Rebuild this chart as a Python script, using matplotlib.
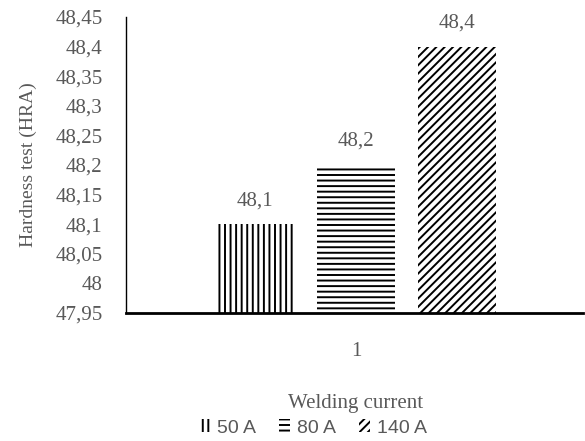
import matplotlib
matplotlib.use("Agg")
import matplotlib.pyplot as plt
from matplotlib.patches import Patch

categories = ["1"]
series_names = ["50 A", "80 A", "140 A"]
values = [48.1, 48.2, 48.4]
value_labels = ["48,1", "48,2", "48,4"]
yticks = [47.95, 48.0, 48.05, 48.1, 48.15, 48.2, 48.25, 48.3, 48.35, 48.4, 48.45]
ytick_labels = ["47,95", "48", "48,05", "48,1", "48,15", "48,2", "48,25", "48,3", "48,35", "48,4", "48,45"]
hatches = ["|||", "---", "////"]

plt.rcParams["hatch.linewidth"] = 1.4
gray = "#595959"
serif = ["Liberation Serif", "DejaVu Serif"]
sans = ["Liberation Sans", "DejaVu Sans"]

fig = plt.figure(figsize=(5.85, 4.41), dpi=100)
ax = fig.add_axes([126/585, 1-313/441, 457/585, 296/441])

offsets = [-0.221, 0.0, 0.221]
width = 0.171
for i, (v, h, lab) in enumerate(zip(values, hatches, value_labels)):
    ax.bar(offsets[i], v - 47.95, bottom=47.95, width=width, color="white",
           edgecolor="black", linewidth=0, hatch=h)
    ax.annotate(lab, (offsets[i], v), xytext=(0, 17), textcoords="offset points",
                ha="center", va="center", fontsize=15, color=gray, family=serif)

ax.set_xlim(-0.503, 0.497)
ax.set_ylim(47.95, 48.45)
ax.set_yticks(yticks)
ax.set_yticklabels(ytick_labels, family=serif, fontsize=15, color=gray)
ax.set_xticks([0])
ax.set_xticklabels(categories, family=serif, fontsize=15, color=gray)
ax.tick_params(axis="y", length=0, pad=17)
ax.tick_params(axis="x", length=0, pad=21)
for s in ["top", "right"]:
    ax.spines[s].set_visible(False)
ax.spines["left"].set_linewidth(1.0)
ax.spines["bottom"].set_linewidth(2.0)

ax.set_ylabel("Hardness test (HRA)", family=serif, fontsize=14, color=gray)
ax.yaxis.set_label_coords(-0.195, 0.5)
ax.set_xlabel("Welding current", family=serif, fontsize=15, color=gray)
ax.xaxis.set_label_coords(0.503, -(81/296))

handles = [Patch(facecolor="white", edgecolor="black", linewidth=0, hatch=h) for h in hatches]
leg = fig.legend(handles, series_names, loc="center", bbox_to_anchor=(313/585, 1-428/441),
                 ncol=3, frameon=False, handlelength=0.55, handleheight=0.65,
                 handletextpad=0.35, columnspacing=1.2, borderpad=0.1,
                 prop={"family": sans, "size": 14})
for t in leg.get_texts():
    t.set_color(gray)

fig.savefig("out.png", dpi=100)
